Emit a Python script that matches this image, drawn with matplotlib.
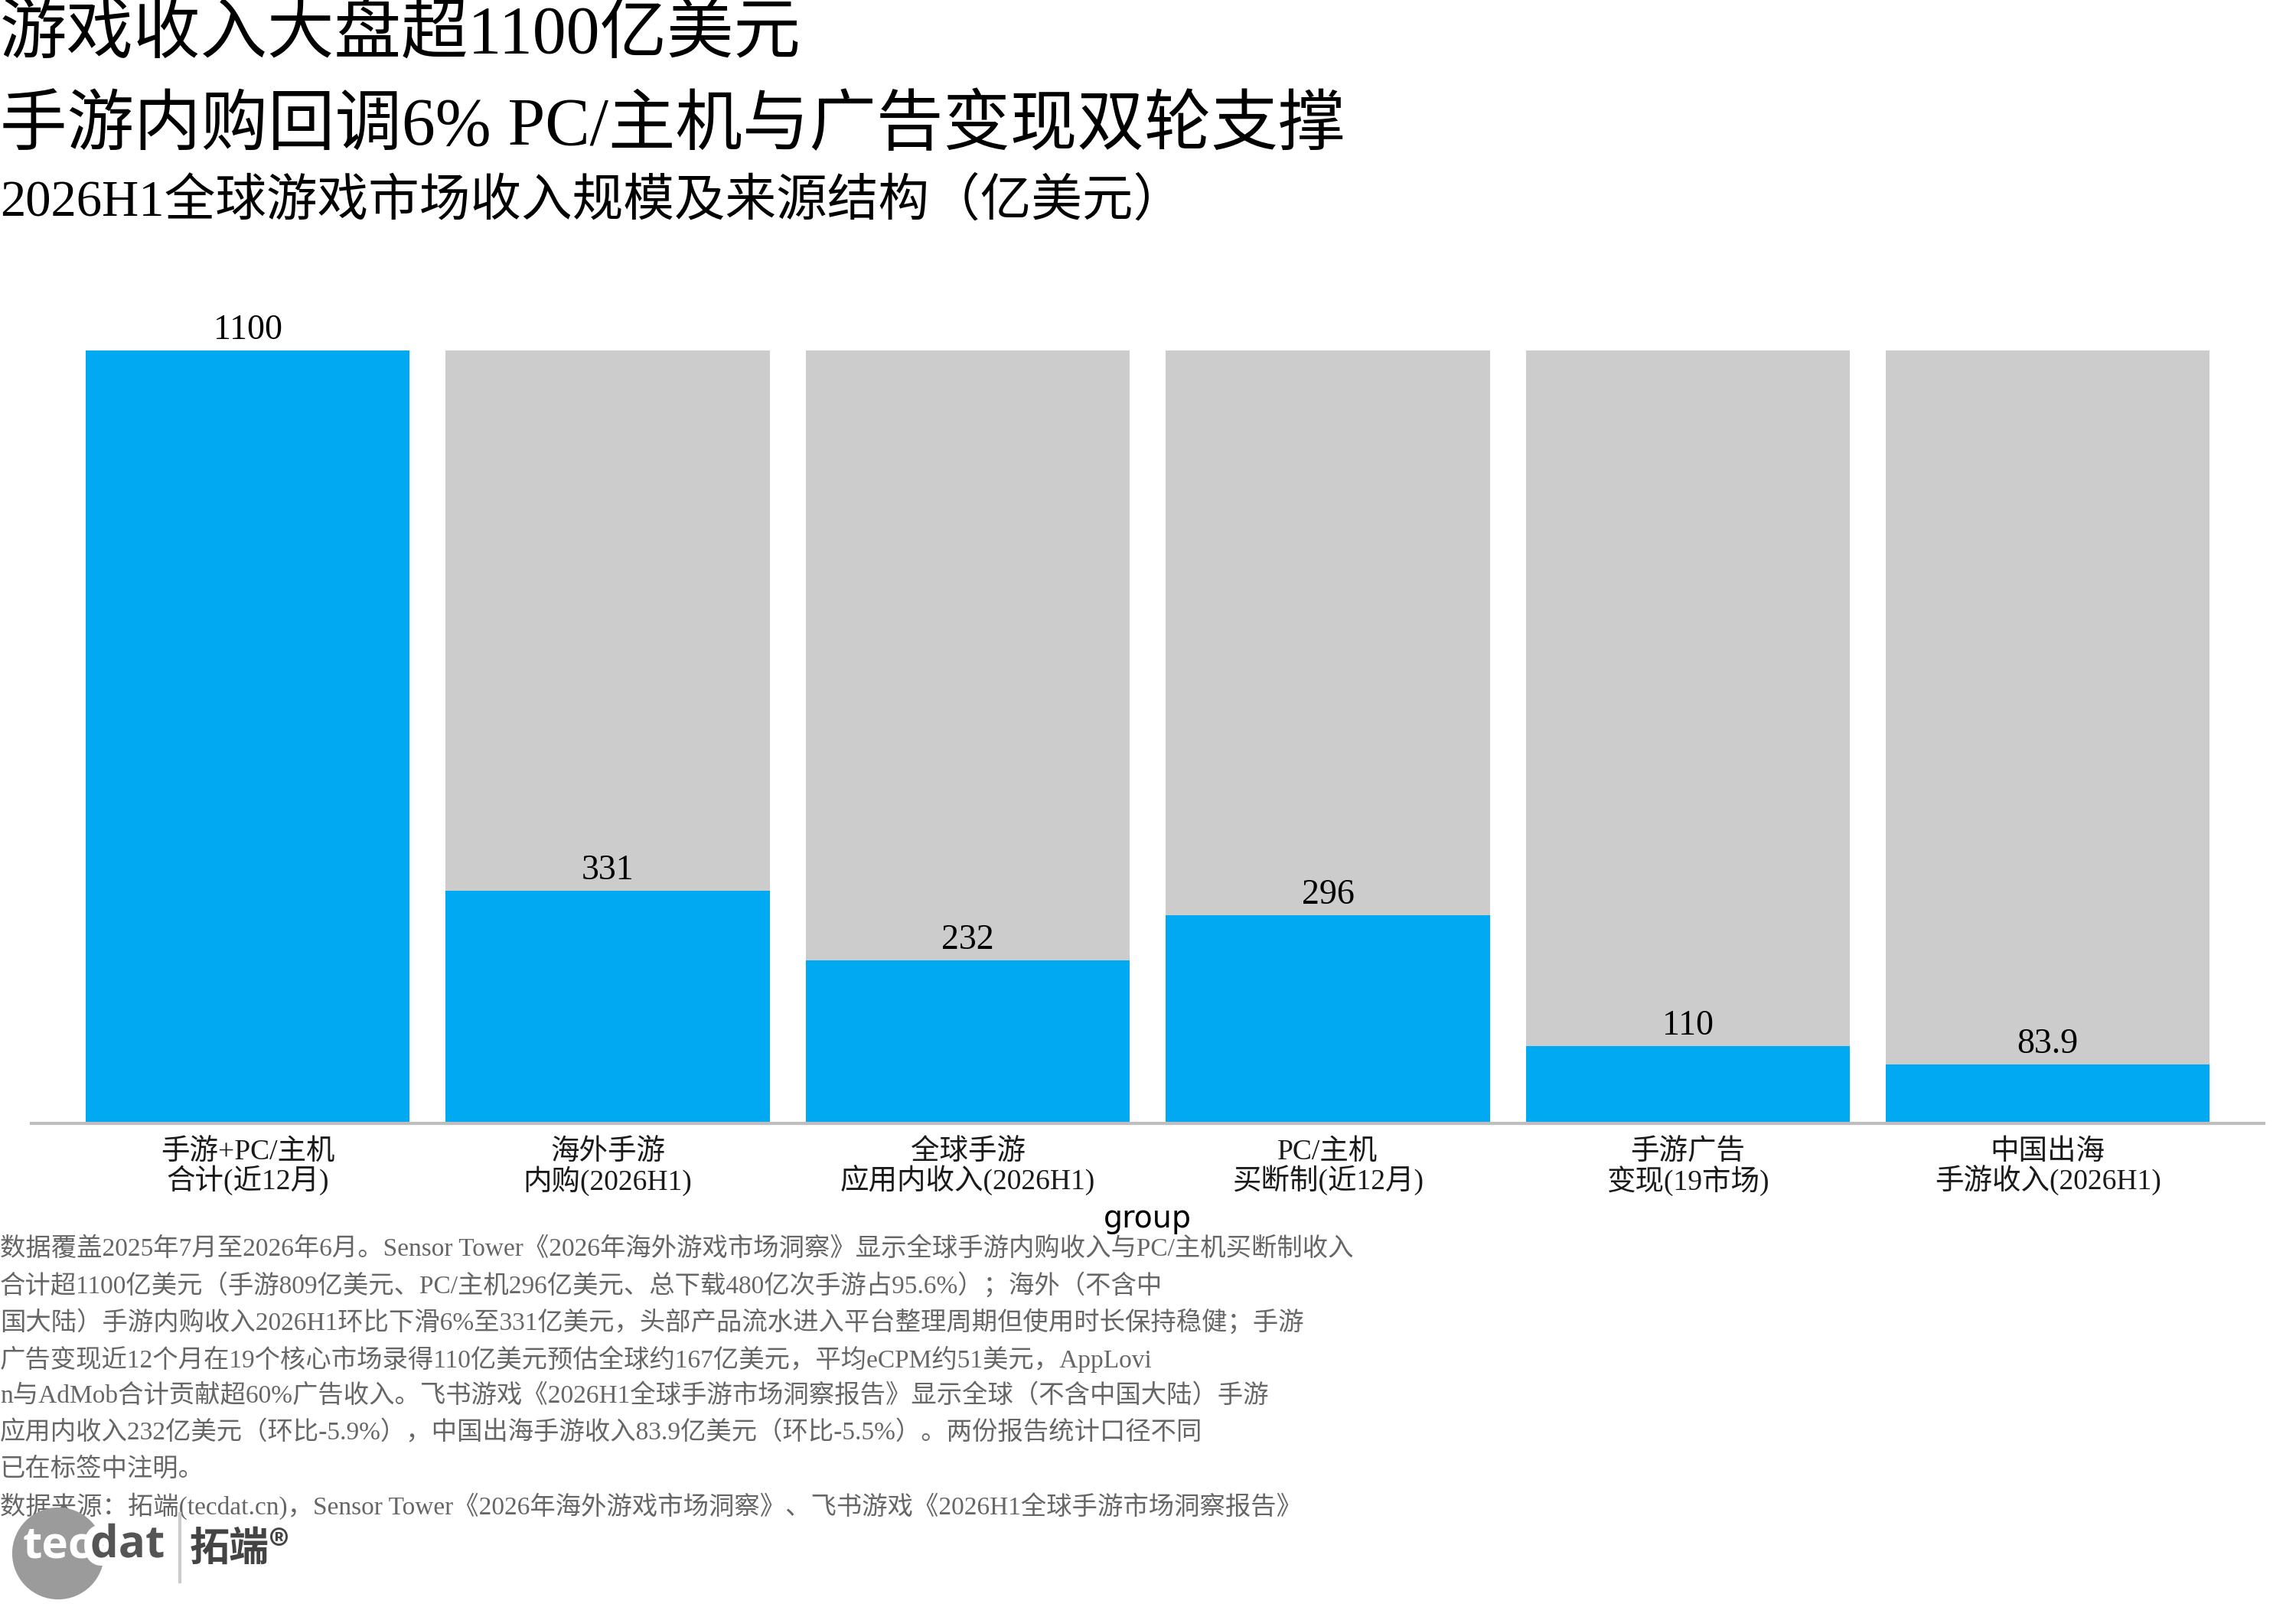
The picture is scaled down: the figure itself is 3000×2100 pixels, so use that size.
import matplotlib
matplotlib.use("Agg")
import matplotlib.pyplot as plt
from matplotlib.patches import Circle
import matplotlib.patheffects as pe

# ---------------- data ----------------
categories = [
    "手游+PC/主机\n合计(近12月)",
    "海外手游\n内购(2026H1)",
    "全球手游\n应用内收入(2026H1)",
    "PC/主机\n买断制(近12月)",
    "手游广告\n变现(19市场)",
    "中国出海\n手游收入(2026H1)",
]
values = [1100, 331, 232, 296, 110, 83.9]
background = [1100, 1100, 1100, 1100, 1100, 1100]

title_lines = [
    "游戏收入大盘超1100亿美元",
    "手游内购回调6% PC/主机与广告变现双轮支撑",
]
subtitle = "2026H1全球游戏市场收入规模及来源结构（亿美元）"
x_label = "group"
footer_lines = [
    "数据覆盖2025年7月至2026年6月。Sensor Tower《2026年海外游戏市场洞察》显示全球手游内购收入与PC/主机买断制收入",
    "合计超1100亿美元（手游809亿美元、PC/主机296亿美元、总下载480亿次手游占95.6%）；海外（不含中",
    "国大陆）手游内购收入2026H1环比下滑6%至331亿美元，头部产品流水进入平台整理周期但使用时长保持稳健；手游",
    "广告变现近12个月在19个核心市场录得110亿美元预估全球约167亿美元，平均eCPM约51美元，AppLovi",
    "n与AdMob合计贡献超60%广告收入。飞书游戏《2026H1全球手游市场洞察报告》显示全球（不含中国大陆）手游",
    "应用内收入232亿美元（环比-5.9%），中国出海手游收入83.9亿美元（环比-5.5%）。两份报告统计口径不同",
    "已在标签中注明。",
]
source_line = "数据来源：拓端(tecdat.cn)，Sensor Tower《2026年海外游戏市场洞察》、飞书游戏《2026H1全球手游市场洞察报告》"

# ---------------- style ----------------
FAM = ["Liberation Serif", "Noto Sans CJK SC", "DejaVu Sans"]
plt.rcParams["font.family"] = FAM
BLUE = "#00A9F1"
GREY = "#CCCCCC"
W, H = 3000, 2100

fig = plt.figure(figsize=(10, 7), dpi=300)

# main axes (positions measured in pixels)
left_px, right_px, bottom_px, top_px = 41.5, 2958, 1468, 458
ax = fig.add_axes([left_px / W, 1 - bottom_px / H,
                   (right_px - left_px) / W, (bottom_px - top_px) / H])
x = list(range(len(categories)))
ax.bar(x, background, width=0.9, color=GREY, zorder=1)
ax.bar(x, values, width=0.9, color=BLUE, zorder=2)
for xi, v in zip(x, values):
    ax.annotate(f"{v:g}", (xi, v), xytext=(0, 3.6), textcoords="offset points",
                ha="center", va="baseline", fontsize=11, color="black",
                family=FAM, clip_on=False, annotation_clip=False)
ax.set_xlim(-0.6, 5.6)
ax.set_ylim(0, 1100)
for s in ("left", "top", "right"):
    ax.spines[s].set_visible(False)
ax.spines["bottom"].set_color("#BEBEBE")
ax.spines["bottom"].set_linewidth(1.0)
ax.set_yticks([])
ax.set_xticks(x)
ax.set_xticklabels(categories, fontsize=9, color="#1A1A1A", linespacing=1.0)
ax.tick_params(axis="x", length=0, pad=4.8)
ax.patch.set_alpha(0)

# overlay axes in pixel coordinates
ov = fig.add_axes([0, 0, 1, 1])
ov.set_xlim(0, W)
ov.set_ylim(H, 0)
ov.axis("off")
ov.patch.set_visible(False)

ov.text(0, 47, title_lines[0], fontsize=21, va="center", ha="left", color="black")
ov.text(0, 167, title_lines[1], fontsize=21, va="center", ha="left", color="black")
ov.text(0, 264, subtitle, fontsize=16, va="center", ha="left", color="black")

ov.text((left_px + right_px) / 2, 1593, x_label, fontsize=9.5, ha="center", va="center",
        family="DejaVu Sans", color="black")

y0, dy = 1632, 48
for i, line in enumerate(footer_lines):
    ov.text(0, y0 + i * dy, line, fontsize=8, ha="left", va="center", color="#666666", zorder=1)
ov.text(0, y0 + len(footer_lines) * dy, source_line, fontsize=8, ha="left", va="center",
        color="#666666", zorder=1)

# logo
ov.add_patch(Circle((76, 2030), 58, color="#9B9B9B", zorder=5))
t_tec = ov.text(30, 2020, "tec", fontsize=14, family=["Open Sans", "DejaVu Sans"],
                fontweight="bold", color="white", ha="left", va="center", zorder=6)
fig.canvas.draw()
bb = t_tec.get_window_extent()
x_dat = bb.x1  # pixel position (figure pixels == overlay data x)
ov.text(x_dat - 2, 2020, "dat", fontsize=14, family=["Open Sans", "DejaVu Sans"],
        fontweight="bold", color="#555555", ha="left", va="center", zorder=6,
        path_effects=[pe.withStroke(linewidth=5, foreground="white")])
ov.plot([235, 235], [1978, 2067], color="#CCCCCC", lw=1, zorder=6)
ov.text(248, 2023, "拓端®", fontsize=12.5, family=["Noto Sans CJK SC", "DejaVu Sans"],
        fontweight="bold", color="#444444", ha="left", va="center", zorder=6)

fig.savefig("out.png", dpi=300, facecolor="white")
